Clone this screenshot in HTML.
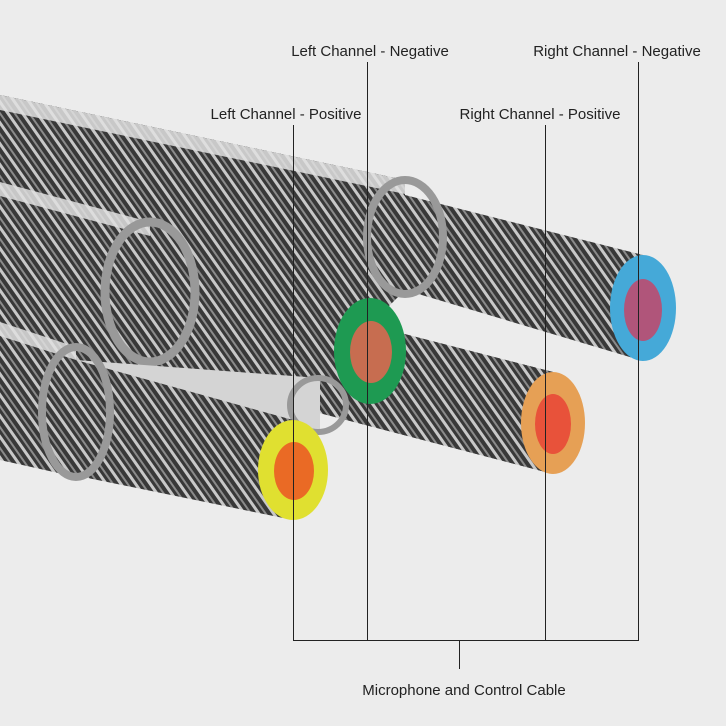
<!DOCTYPE html>
<html><head><meta charset="utf-8"><style>
html,body{margin:0;padding:0;background:#ececec;}
svg{display:block;}
text{font-family:"Liberation Sans",sans-serif;font-size:15px;fill:#222;}
</style></head><body>
<svg width="726" height="726" viewBox="0 0 726 726">
<defs>
<pattern id="wire" patternUnits="userSpaceOnUse" width="12" height="12" patternTransform="rotate(-35)">
<rect width="12" height="12" fill="#383838"/>
<rect x="0" y="0" width="3" height="12" fill="#c8c8c8"/>
<rect x="6" y="0" width="2" height="12" fill="#8a8a8a"/>
</pattern>
</defs>
<rect width="726" height="726" fill="#ececec"/>

<!-- backing fill -->
<polygon points="0,95 405,180 405,290 370,325 553,372 553,474 320,413 293,420 293,520 0,460" fill="url(#wire)"/>

<!-- top cable -->
<polygon points="0,95 405,180 405,294 0,215" fill="url(#wire)"/>
<polygon points="0,95 405,180 405,194 0,110" fill="#e2e2e2" opacity="0.85"/>
<polygon points="405,195 643,255 643,361 405,290" fill="url(#wire)"/>
<ellipse cx="405" cy="237" rx="38" ry="57" fill="none" stroke="#999" stroke-width="8"/>
<ellipse cx="643" cy="308" rx="33" ry="53" fill="#45a9d8"/>
<ellipse cx="643" cy="310" rx="19" ry="31" fill="#b0557a"/>

<!-- orange wire -->
<polygon points="250,295 553,372 553,474 250,395" fill="url(#wire)"/>
<ellipse cx="553" cy="423" rx="32" ry="51" fill="#e6a055"/>
<ellipse cx="553" cy="424" rx="18" ry="30" fill="#e8523a"/>

<!-- middle cable -->
<polygon points="0,182 150,222 150,362 0,322" fill="url(#wire)"/>
<polygon points="0,182 150,222 150,236 0,196" fill="#e0e0e0" opacity="0.85"/>
<polygon points="150,240 370,298 370,404 150,345" fill="url(#wire)"/>
<ellipse cx="150" cy="292" rx="45" ry="70" fill="none" stroke="#999" stroke-width="9"/>
<ellipse cx="370" cy="351" rx="36" ry="53" fill="#1e9a52"/>
<ellipse cx="371" cy="352" rx="21" ry="31" fill="#c76d50"/>

<!-- bottom cable -->
<polygon points="76,360 320,378 320,432 76,410" fill="#d4d4d4"/>
<ellipse cx="318" cy="405" rx="28" ry="27" fill="none" stroke="#999" stroke-width="6"/>
<polygon points="0,322 76,347 76,477 0,460" fill="url(#wire)"/>
<polygon points="0,322 76,347 76,360 0,336" fill="#e0e0e0" opacity="0.85"/>
<polygon points="76,360 293,420 293,520 76,465" fill="url(#wire)"/>
<ellipse cx="76" cy="412" rx="34" ry="65" fill="none" stroke="#999" stroke-width="8"/>
<ellipse cx="293" cy="470" rx="35" ry="50" fill="#e0e030"/>
<ellipse cx="294" cy="471" rx="20" ry="29" fill="#ea6a25"/>

<!-- annotation lines -->
<g stroke="#222" stroke-width="1" fill="none">
<line x1="293.5" y1="125" x2="293.5" y2="640"/>
<line x1="367.5" y1="62" x2="367.5" y2="640"/>
<line x1="545.5" y1="125" x2="545.5" y2="640"/>
<line x1="638.5" y1="62" x2="638.5" y2="640"/>
<line x1="293" y1="640.5" x2="639" y2="640.5"/>
<line x1="459.5" y1="640" x2="459.5" y2="669"/>
</g>
<text x="370" y="56" text-anchor="middle">Left Channel - Negative</text>
<text x="617" y="56" text-anchor="middle">Right Channel - Negative</text>
<text x="286" y="119" text-anchor="middle">Left Channel - Positive</text>
<text x="540" y="119" text-anchor="middle">Right Channel - Positive</text>
<text x="464" y="695" text-anchor="middle">Microphone and Control Cable</text>
</svg>
</body></html>
